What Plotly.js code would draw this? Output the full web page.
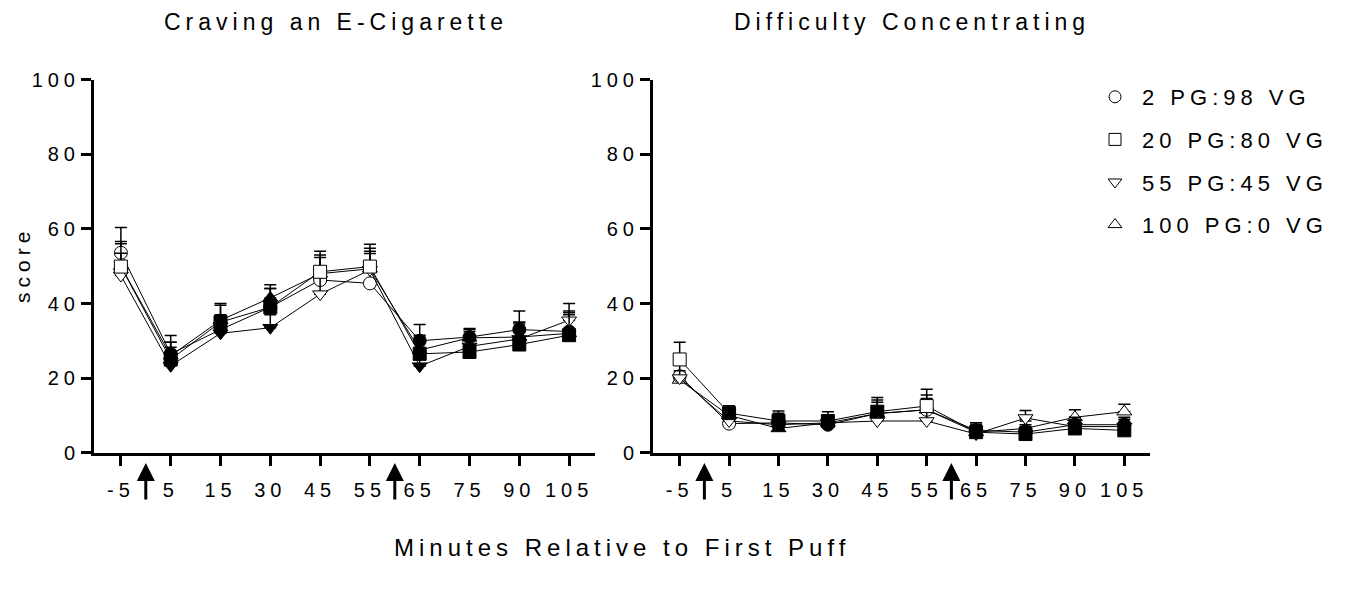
<!DOCTYPE html>
<html>
<head>
<meta charset="utf-8">
<script src="https://cdn.plot.ly/plotly-3.0.1.min.js"></script>
<style>
  html, body { margin: 0; padding: 0; background: #fff; }
  #chart { width: 1354px; height: 592px; }
  text { letter-spacing: 5px; }
</style>
</head>
<body>
<div id="chart"></div>
<script>
// ---- Data ----
const categories = ['-5', '5', '15', '30', '45', '55', '65', '75', '90', '105'];
const seriesNames = ['2 PG:98 VG', '20 PG:80 VG', '55 PG:45 VG', '100 PG:0 VG'];

// Craving an E-Cigarette (mean score)
const cravePG2   = [53.6, 26.5, 33.0, 39.0, 46.3, 45.4, 30.0, 31.0, 33.0, 32.5];
const cravePG20  = [49.9, 25.0, 35.0, 39.0, 48.5, 49.9, 26.5, 27.0, 29.0, 31.5];
const cravePG55  = [47.5, 23.3, 32.0, 33.5, 42.5, 49.0, 23.2, 28.5, 30.5, 35.5];
const cravePG100 = [50.0, 26.0, 35.5, 41.5, 48.0, 49.3, 27.5, 30.8, 31.0, 32.0];
// Craving SEM (upper error bars)
const craveErrPG2   = [6.8, 4.9, 4.0, 5.0, 6.0, 8.0, 4.4, 2.0, 5.0, 5.0];
const craveErrPG20  = [6.7, 4.6, 4.5, 5.0, 5.5, 6.0, 4.5, 3.5, 5.5, 6.5];
const craveErrPG55  = [6.0, 5.0, 4.5, 3.5, 5.0, 5.0, 5.0, 4.0, 4.5, 4.5];
const craveErrPG100 = [6.0, 3.6, 4.5, 3.5, 5.0, 5.5, 4.0, 2.5, 4.0, 5.0];
// Craving: significant vs baseline (drawn as filled symbols)
const craveSigPG2   = [0, 1, 1, 1, 0, 0, 1, 1, 1, 1];
const craveSigPG20  = [0, 1, 1, 1, 0, 0, 1, 1, 1, 1];
const craveSigPG55  = [0, 1, 1, 1, 0, 0, 1, 1, 1, 0];
const craveSigPG100 = [0, 1, 1, 1, 0, 0, 1, 1, 1, 1];

// Difficulty Concentrating (mean score)
const concPG2   = [20.5, 7.8, 8.0, 7.5, 10.5, 11.5, 6.0, 5.5, 7.5, 7.5];
const concPG20  = [25.0, 10.6, 8.5, 8.5, 11.0, 12.5, 5.5, 5.0, 6.5, 6.0];
const concPG55  = [20.0, 8.5, 7.5, 8.0, 8.5, 8.5, 5.0, 9.3, 7.0, 7.0];
const concPG100 = [19.5, 10.0, 6.5, 8.0, 10.5, 11.5, 5.5, 6.5, 9.5, 11.0];
const concErrPG2   = [3.0, 2.0, 2.6, 2.0, 3.6, 4.0, 2.0, 2.0, 2.0, 2.0];
const concErrPG20  = [4.6, 2.0, 2.7, 2.5, 3.8, 4.5, 2.5, 2.0, 2.0, 2.0];
const concErrPG55  = [2.0, 2.0, 2.0, 2.0, 3.0, 3.0, 2.0, 2.0, 2.0, 2.0];
const concErrPG100 = [2.0, 2.0, 2.5, 2.0, 3.0, 3.0, 2.0, 2.0, 2.0, 2.0];
const concSigPG2   = [0, 0, 1, 1, 1, 0, 1, 1, 1, 1];
const concSigPG20  = [0, 1, 1, 1, 1, 0, 1, 1, 1, 1];
const concSigPG55  = [0, 0, 1, 1, 0, 0, 1, 0, 1, 1];
const concSigPG100 = [0, 1, 1, 1, 1, 0, 1, 1, 0, 0];

const yTicks = [0, 20, 40, 60, 80, 100];
const panelTitles = ['Craving an E-Cigarette', 'Difficulty Concentrating'];
const xTitle = 'Minutes Relative to First Puff';
const yTitle = 'score';

// ---- Styling ----
const FONT = 'Liberation Sans, Arial, sans-serif';
const symbols = ['circle', 'square', 'triangle-down', 'triangle-up'];
const W = 1354, H = 592;

function makeTrace(vals, errs, sig, sym, xa, ya) {
  return {
    type: 'scatter', mode: 'lines+markers',
    x: categories, y: vals, xaxis: xa, yaxis: ya,
    showlegend: false, cliponaxis: false,
    line: { color: 'black', width: 1 },
    marker: {
      symbol: sym, size: 13,
      color: sig.map(s => s ? 'black' : 'white'),
      line: { color: 'black', width: 1 }
    },
    error_y: {
      type: 'data', symmetric: false, array: errs,
      arrayminus: errs.map(() => 0),
      color: 'black', thickness: 1.5, width: 6
    },
    hoverinfo: 'x+y'
  };
}

const crave = [[cravePG2, craveErrPG2, craveSigPG2], [cravePG20, craveErrPG20, craveSigPG20],
               [cravePG55, craveErrPG55, craveSigPG55], [cravePG100, craveErrPG100, craveSigPG100]];
const conc = [[concPG2, concErrPG2, concSigPG2], [concPG20, concErrPG20, concSigPG20],
              [concPG55, concErrPG55, concSigPG55], [concPG100, concErrPG100, concSigPG100]];

// stacking order of the series (last drawn is on top): 100PG, 2PG, 55PG, 20PG
const drawOrder = [3, 0, 2, 1];
const traces = [];
drawOrder.forEach(i => traces.push(makeTrace(crave[i][0], crave[i][1], crave[i][2], symbols[i], 'x', 'y')));
drawOrder.forEach(i => traces.push(makeTrace(conc[i][0], conc[i][1], conc[i][2], symbols[i], 'x2', 'y2')));
// legend entries (symbol only)
seriesNames.forEach((n, i) => traces.push({
  type: 'scatter', mode: 'markers', x: [null], y: [null], xaxis: 'x', yaxis: 'y',
  name: n, legendgroup: 'g' + i, showlegend: true,
  marker: { symbol: symbols[i] + '-open', size: 12, color: 'black', line: { width: 1 } }
}));

const yDomain = [(H - 452.7) / H, (H - 79.7) / H];
function xAxis(domain) {
  return {
    type: 'category', domain: domain, range: [-0.54, 9.52],
    showline: true, linecolor: 'black', linewidth: 3,
    ticks: 'outside', ticklen: 10, tickwidth: 3, tickcolor: 'black',
    tickfont: { family: FONT, size: 20, color: 'black' },
    ticklabelstandoff: 7,
    showgrid: false, zeroline: false, fixedrange: true
  };
}
function yAxis(anchor) {
  return {
    domain: yDomain, range: [0, 100], anchor: anchor,
    tickvals: yTicks, ticktext: yTicks.map(String),
    showline: true, linecolor: 'black', linewidth: 3,
    ticks: 'outside', ticklen: 10, tickwidth: 3, tickcolor: 'black',
    tickfont: { family: FONT, size: 20, color: 'black' },
    ticklabelstandoff: -3,
    showgrid: false, zeroline: false, fixedrange: true
  };
}

const arrowY = (H - 463) / H;
function arrow(xref, xpos) {
  return {
    xref: xref, yref: 'paper', x: xpos, y: arrowY, ax: 0, ay: 38,
    text: '', showarrow: true, arrowhead: 2, arrowsize: 1.2, arrowwidth: 3,
    arrowcolor: 'black', standoff: 0
  };
}

const layout = {
  width: W, height: H,
  margin: { l: 0, r: 0, t: 0, b: 0 },
  paper_bgcolor: 'white', plot_bgcolor: 'white',
  font: { family: FONT, color: 'black' },
  xaxis: xAxis([94 / W, 595 / W]),
  yaxis: yAxis('x'),
  xaxis2: xAxis([653 / W, 1150 / W]),
  yaxis2: yAxis('x2'),
  showlegend: true,
  legend: {
    x: 1088 / W, xanchor: 'left', y: (H - 76) / H, yanchor: 'top',
    font: { family: FONT, size: 22, color: 'black' },
    traceorder: 'grouped', tracegroupgap: 11, itemwidth: 44,
    bgcolor: 'rgba(0,0,0,0)'
  },
  annotations: [
    { xref: 'paper', yref: 'paper', x: 336 / W, y: (H - 22) / H, text: panelTitles[0],
      showarrow: false, xanchor: 'center', yanchor: 'middle', font: { family: FONT, size: 23 } },
    { xref: 'paper', yref: 'paper', x: 912 / W, y: (H - 22) / H, text: panelTitles[1],
      showarrow: false, xanchor: 'center', yanchor: 'middle', font: { family: FONT, size: 23 } },
    { xref: 'paper', yref: 'paper', x: 622 / W, y: (H - 547) / H, text: xTitle,
      showarrow: false, xanchor: 'center', yanchor: 'middle', font: { family: FONT, size: 24 } },
    { xref: 'paper', yref: 'paper', x: 22 / W, y: (H - 265) / H, text: yTitle, textangle: -90,
      showarrow: false, xanchor: 'center', yanchor: 'middle', font: { family: FONT, size: 21 } },
    arrow('x', 0.5), arrow('x', 5.5), arrow('x2', 0.5), arrow('x2', 5.5)
  ]
};

Plotly.newPlot('chart', traces, layout, { displayModeBar: false, staticPlot: true });
</script>
</body>
</html>
